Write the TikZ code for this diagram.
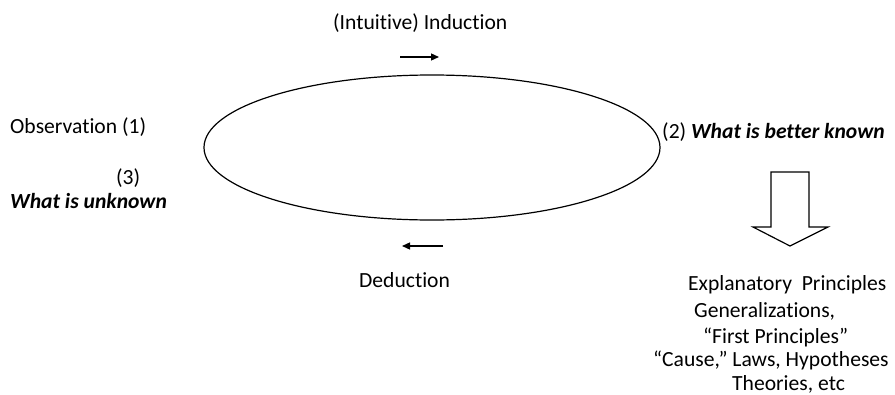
\documentclass[tikz,border=0pt]{standalone}
\usepackage{fontspec}
\setmainfont{Carlito}[Ligatures=NoCommon]
\usetikzlibrary{arrows.meta,shapes.geometric}
\begin{document}
\begin{tikzpicture}[x=1pt,y=-1pt,
  lbl/.style={anchor=base west,inner sep=0pt,font=\fontsize{21.6}{25}\selectfont},
  bi/.style={lbl,font=\fontsize{21.6}{25}\selectfont\bfseries\itshape},
  small arrow/.style={line width=1.3pt,-{Triangle[length=8pt,width=7pt]}}]
\useasboundingbox (0,0) rectangle (895,394);
\node[draw,line width=1.2pt,ellipse,minimum width=456pt,minimum height=145pt,inner sep=0pt] (loop) at (432,147.5) {};
\node[lbl] (ind) at (333,29) {(Intuitive) Induction};
\node[lbl] (obs) at (10,133) {Observation (1)};
\node[lbl] (three) at (116,184) {(3)};
\node[bi] (unk) at (10,208) {What is unknown};
\node[lbl] (two) at (662,138) {(2) \textbf{\textit{What is better known}}};
\node[lbl] (ded) at (359,287) {Deduction};
\coordinate (ia) at (400,57);
\coordinate (ib) at (439,57);
\coordinate (da) at (443,246);
\coordinate (db) at (402,246);
\draw[small arrow] (ia) -- (ib);
\draw[small arrow] (da) -- (db);
\draw[line width=1.2pt,line join=miter] (771,172) -- (809,172) -- (809,227) -- (828,227) -- (790,246) -- (753,227) -- (771,227) -- cycle;
\node[lbl] (p1) at (688,290) {Explanatory\ \ Principles};
\node[lbl] (p2) at (694,317) {Generalizations,};
\node[lbl] (p3) at (703,343) {“First Principles”};
\node[lbl] (p4) at (653,366) {“Cause,” Laws, Hypotheses};
\node[lbl] (p5) at (732,390) {Theories, etc};
\end{tikzpicture}
\end{document}
